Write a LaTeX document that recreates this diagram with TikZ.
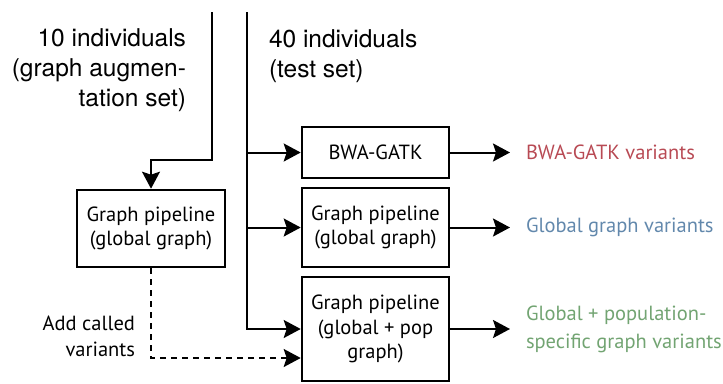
\documentclass[tikz,border=0pt]{standalone}
\usepackage{fontspec}
\setmainfont{PT Sans}
\newfontfamily\helv{TeX Gyre Heros}
\usetikzlibrary{positioning,arrows.meta}
\definecolor{bwared}{RGB}{184,74,84}
\definecolor{globblue}{RGB}{98,136,172}
\definecolor{popgreen}{RGB}{114,164,114}

\begin{document}
\begin{tikzpicture}[x=1pt, y=-1pt, line width=2pt,
		>={Stealth[length=17pt, width=18pt, inset=3pt]},
		box/.style={draw, line width=2.6pt, minimum width=147pt, align=center, inner sep=0pt,
			font=\fontsize{20.5}{24.5}\selectfont},
		setlabel/.style={inner sep=0pt, font=\helv\fontsize{24.5}{30}\selectfont},
		varlabel/.style={anchor=west, inner sep=0pt, outer xsep=16pt, align=left,
			font=\fontsize{20.5}{28}\selectfont}]
	\useasboundingbox (0,0) rectangle (723,383);
	% the two sample sets coming in from above
	\coordinate (augtop) at (212,12);
	\coordinate (testtop) at (247,12);
	\node[setlabel, anchor=east, align=right] (auglabel) at (187,70) {10 individuals\\(graph augmen-\\tation set)};
	\node[setlabel, anchor=west, align=left] (testlabel) at (268,56) {40 individuals\\(test set)};
	% pipelines
	\node[box, minimum height=51pt] (bwa) at (375.5,152.5) {BWA-GATK};
	\node[box, minimum height=79pt] (gpglobal) at (375.5,227.5) {Graph pipeline\\(global graph)};
	\node[box, minimum height=104pt] (gppop) at (375.5,329) {Graph pipeline\\(global + pop\\graph)};
	\node[box, minimum height=77pt, minimum width=148pt] (gpaug) at (151,228.5) {Graph pipeline\\(global graph)};
	% outputs
	\node[varlabel, text=bwared] (bwaout) at (510,152.5) {BWA-GATK variants};
	\node[varlabel, text=globblue] (globout) at (510,227.5) {Global graph variants};
	\node[varlabel, text=popgreen] (popout) at (510,329) {Global + population-\\specific graph variants};
	\node[inner sep=0pt, anchor=east, align=right, font=\fontsize{20.5}{26}\selectfont] (addlabel) at (136,336) {Add called\\variants};
	% connectors
	\draw[->] (augtop) -- ++(0,148) -| (gpaug.north);
	\draw[->] (testtop) |- (gppop.west);
	\draw[->] (testtop |- bwa.west) -- (bwa.west);
	\draw[->] (testtop |- gpglobal.west) -- (gpglobal.west);
	\draw[->, dash pattern=on 6pt off 5pt] (gpaug.south) |- ([yshift=-29pt]gppop.west);
	\draw[->] (bwa) -- (bwaout);
	\draw[->] (gpglobal) -- (globout);
	\draw[->] (gppop) -- (popout);
\end{tikzpicture}
\end{document}
